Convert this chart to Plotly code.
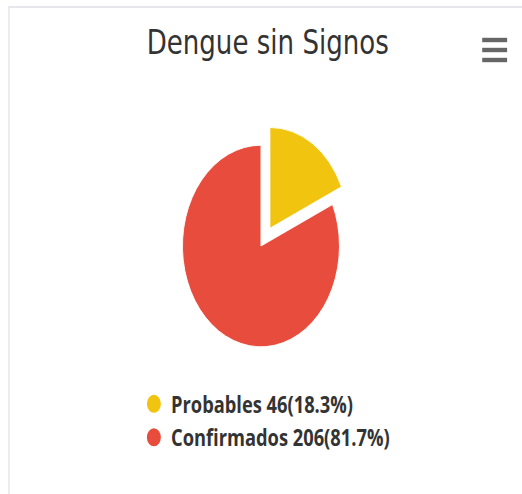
import plotly.graph_objects as go

# Dengue cases without warning signs, split by classification
categories = ["Probables", "Confirmados"]
counts = [46, 206]
colors = ["#f1c40f", "#e74c3c"]
pulls = [0.21, 0]

total = sum(counts)
labels = [f"{c} {v}({v / total * 100:.1f}%)" for c, v in zip(categories, counts)]

W, H = 670, 494
SQUEEZE = 0.779  # horizontal scale applied to the rendered chart

fig = go.Figure()
fig.add_trace(go.Pie(
    labels=categories,
    values=counts,
    marker=dict(colors=colors, line=dict(color="white", width=1)),
    pull=pulls,
    sort=False,
    direction="clockwise",
    rotation=0,
    textinfo="none",
    hoverinfo="skip",
    showlegend=False,
    domain=dict(x=[0.318, 0.682], y=[0.255, 0.749]),
))

# Circle legend entries, one per category
for lab, col in zip(labels, colors):
    fig.add_trace(go.Scatter(
        x=[None], y=[None], mode="markers", name=lab,
        marker=dict(color=col, size=20, symbol="circle",
                    line=dict(color=col, width=2)),
        hoverinfo="skip",
    ))

# Card outline and the menu button
shapes = [
    dict(type="rect", xref="paper", yref="paper",
         x0=11.5 / W, x1=1.2, y0=-0.2, y1=1 - 7 / H,
         line=dict(color="#e6e6ec", width=2), fillcolor="rgba(0,0,0,0)"),
]
for yb in (40, 50, 60):
    shapes.append(dict(type="rect", xref="paper", yref="paper",
                       x0=619 / W, x1=651 / W,
                       y0=1 - (yb + 2.2) / H, y1=1 - (yb - 2.2) / H,
                       line=dict(width=0), fillcolor="#666666"))

fig.update_layout(
    width=W, height=H,
    margin=dict(l=0, r=0, t=0, b=0),
    paper_bgcolor="white", plot_bgcolor="white",
    title=dict(text="Dengue sin Signos", x=0.513, xanchor="center",
               y=1 - 42 / H, yanchor="middle",
               font=dict(family="DejaVu Sans", size=33.5, color="#333333")),
    xaxis=dict(visible=False), yaxis=dict(visible=False),
    legend=dict(x=0.262, y=1 - 382 / H, xanchor="left", yanchor="top",
                itemwidth=34,
                font=dict(family="Open Sans", size=23.5, color="#333333", weight="bold"),
                bgcolor="rgba(0,0,0,0)", borderwidth=0, itemclick=False,
                itemdoubleclick=False),
    shapes=shapes,
)

post = (
    "var gd=document.getElementById('{plot_id}');"
    f"gd.style.transform='scaleX({SQUEEZE})';"
    "gd.style.transformOrigin='0 0';"
    "document.body.style.margin='0';"
    "document.body.style.overflow='hidden';"
)

fig.write_html("out.html", config={"displayModeBar": False}, post_script=post)
